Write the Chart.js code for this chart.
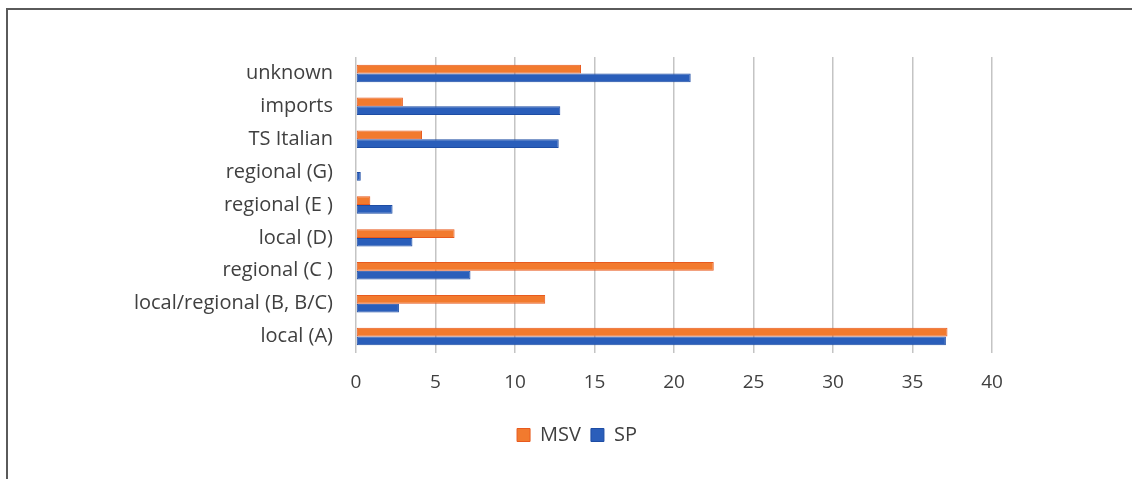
<!DOCTYPE html>
<html>
<head>
<meta charset="utf-8">
<script src="https://cdn.jsdelivr.net/npm/chart.js@4/dist/chart.umd.min.js"></script>
<style>
  html, body { margin: 0; padding: 0; background: #fff; }
  #wrap { position: relative; width: 1132px; height: 479px; overflow: hidden; }
  #frame { position: absolute; left: 6px; top: 8px; right: -4px; bottom: -4px;
           border-left: 2px solid #5a5a5a; border-top: 2px solid #5a5a5a; }
  canvas { position: absolute; left: 0; top: 0; }
</style>
</head>
<body>
<div id="wrap">
  <div id="frame"></div>
  <canvas id="c" width="1132" height="479"></canvas>
</div>
<script>
// Source categories, top to bottom
const categories = [
  'unknown', 'imports', 'TS Italian', 'regional (G)', 'regional (E )',
  'local (D)', 'regional (C )', 'local/regional (B, B/C)', 'local (A)'
];
// Share per category (%)
const msvValues = [14.15, 2.95, 4.15, 0, 0.9, 6.2, 22.5, 11.9, 37.2];
const spValues  = [21.05, 12.85, 12.75, 0.3, 2.3, 3.55, 7.2, 2.7, 37.1];
const seriesNames = ['MSV', 'SP'];
const xTicks = [0, 5, 10, 15, 20, 25, 30, 35, 40];

const FONT = '"Open Sans", "DejaVu Sans", sans-serif';
const TEXT = '#404040';
const PAD_LEFT = 10;
const LEGEND_SHIFT = 76;

// Nudge the legend row to the right of the canvas centre
const legendShift = {
  id: 'legendShift',
  afterLayout(chart) {
    const l = chart.legend;
    if (l) { l.left += LEGEND_SHIFT; l.right += LEGEND_SHIFT; }
  }
};

new Chart(document.getElementById('c'), {
  type: 'bar',
  data: {
    labels: categories,
    datasets: [
      { label: seriesNames[0], data: msvValues, backgroundColor: '#F27A2E', borderColor: '#E85A1E',
        borderWidth: 1, borderSkipped: false },
      { label: seriesNames[1], data: spValues, backgroundColor: '#2A5EBA', borderColor: '#1E4DA4',
        borderWidth: 1, borderSkipped: false }
    ]
  },
  plugins: [legendShift],
  options: {
    indexAxis: 'y',
    responsive: false,
    animation: false,
    devicePixelRatio: 1,
    categoryPercentage: 0.53,
    barPercentage: 1.0,
    layout: { padding: { top: 57, left: PAD_LEFT, right: 140, bottom: 24 } },
    plugins: {
      tooltip: { enabled: false },
      legend: {
        position: 'bottom',
        labels: {
          font: { family: FONT, size: 20 },
          color: TEXT,
          boxWidth: 13,
          boxHeight: 13,
          padding: 10
        }
      }
    },
    scales: {
      x: {
        min: 0, max: 40,
        afterBuildTicks: (s) => { s.ticks = xTicks.map(v => ({ value: v })); },
        afterFit: (s) => { s.height = 62; },
        grid: { color: '#c4c4c4', lineWidth: 1.5, drawTicks: false },
        border: { display: false },
        ticks: { font: { family: FONT, size: 19 }, color: TEXT, padding: 18 }
      },
      y: {
        afterFit: (s) => { s.width = 356 - PAD_LEFT; },
        grid: { display: false, drawTicks: false },
        border: { display: false },
        ticks: { font: { family: FONT, size: 20 }, color: TEXT, padding: 23 }
      }
    }
  }
});
</script>
</body>
</html>
